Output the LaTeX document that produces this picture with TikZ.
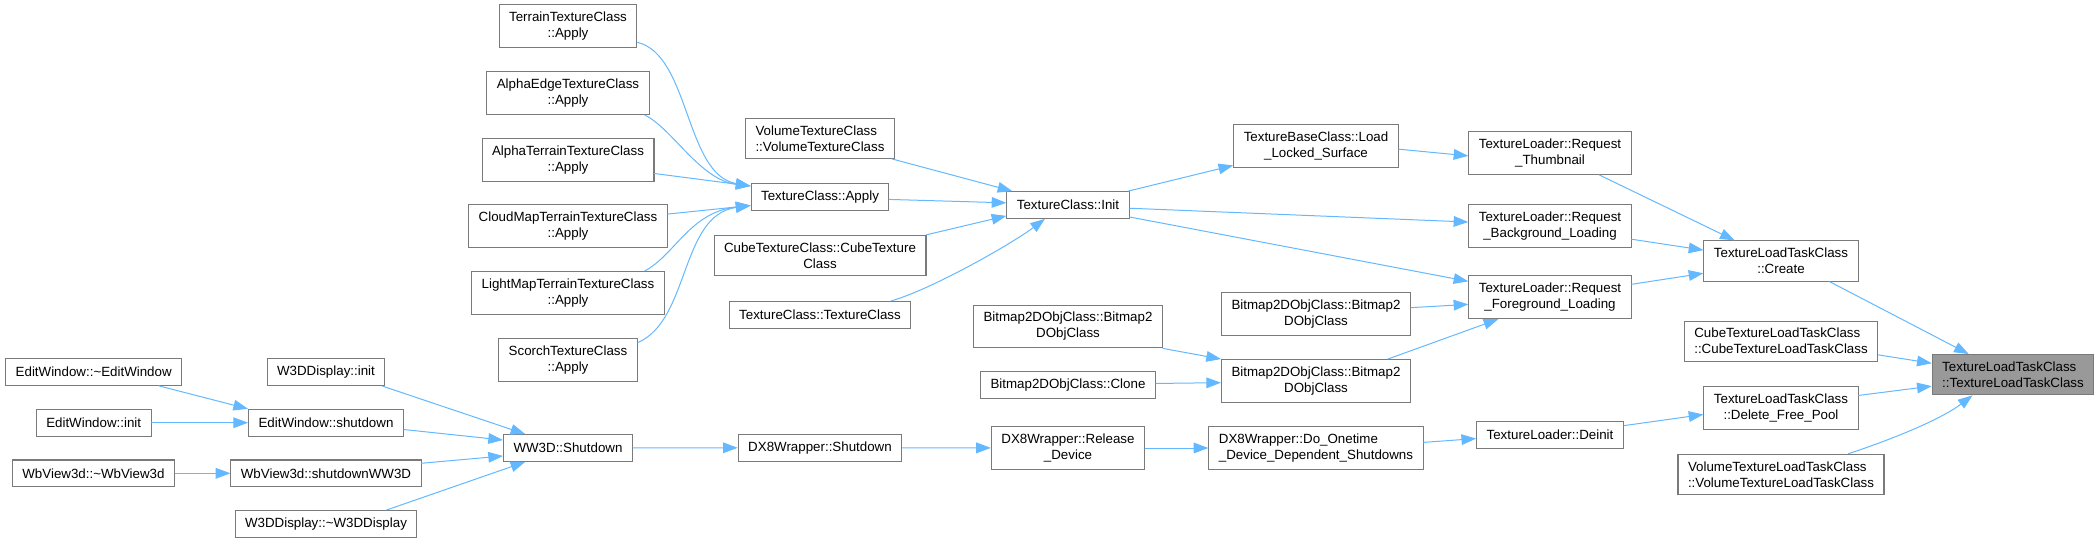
\documentclass[tikz,border=0pt]{standalone}
\usepackage{fontspec}
\setmainfont{Liberation Sans}
\usetikzlibrary{arrows.meta}
\definecolor{callblue}{HTML}{63B8FF}
\definecolor{boxgray}{HTML}{7A7A7A}
\definecolor{hitgray}{HTML}{999999}

\begin{document}
\begin{tikzpicture}[x=0.75pt, y=-0.75pt, every node/.style={font=\fontsize{10}{12}\selectfont}, line cap=round,
  >={Triangle[length=11pt, width=8pt]},
  fn/.style={draw=boxgray, line width=0.8pt, fill=white, align=center, inner xsep=7.5pt, inner ysep=5.4pt, minimum height=20pt},
  fnl/.style={fn, align=left},
  hit/.style={fnl, fill=hitgray},
  call/.style={->, draw=callblue, line width=0.75pt}]

\useasboundingbox (0,0) rectangle (2100,543);

% ---------- callers on the far left ----------
\node[fn] (ewDtor) at (93.7,372) {EditWindow::\textasciitilde EditWindow};
\node[fn] (ewInit) at (93.7,422.7) {EditWindow::init};
\node[fn] (wbDtor) at (93.5,473.3) {WbView3d::\textasciitilde WbView3d};

\node[fn] (w3dInit) at (326,372) {W3DDisplay::init};
\node[fn] (ewShut) at (326,422.7) {EditWindow::shutdown};
\node[fn] (wbShut) at (326,473.3) {WbView3d::shutdownWW3D};
\node[fn] (w3dDtor) at (326,524) {W3DDisplay::\textasciitilde W3DDisplay};

% ---------- texture Apply column ----------
\node[fn] (terrain) at (568,26.3) {TerrainTextureClass\\::Apply};
\node[fn] (alphaEdge) at (568,93) {AlphaEdgeTextureClass\\::Apply};
\node[fn] (alphaTerrain) at (568,159.8) {AlphaTerrainTextureClass\\::Apply};
\node[fn] (cloudMap) at (568,226.3) {CloudMapTerrainTextureClass\\::Apply};
\node[fn] (lightMap) at (568,293) {LightMapTerrainTextureClass\\::Apply};
\node[fn] (scorch) at (568,360) {ScorchTextureClass\\::Apply};
\node[fn] (ww3d) at (568,448) {WW3D::Shutdown};

\node[fnl] (volTex) at (820,138.3) {VolumeTextureClass\\::VolumeTextureClass};
\node[fn] (tcApply) at (820,197) {TextureClass::Apply};
\node[fn] (cubeTex) at (820,255.5) {CubeTextureClass::CubeTexture\\Class};
\node[fn] (tcCtor) at (820,314.7) {TextureClass::TextureClass};
\node[fn] (dxShut) at (820,447.7) {DX8Wrapper::Shutdown};

% ---------- init, bitmaps, device ----------
\node[fn] (tcInit) at (1068,205) {TextureClass::Init};
\node[fn] (bmpA) at (1068,326.5) {Bitmap2DObjClass::Bitmap2\\DObjClass};
\node[fn] (bmpClone) at (1068,385) {Bitmap2DObjClass::Clone};
\node[fn] (dxRelease) at (1068,448) {DX8Wrapper::Release\\\_Device};

\node[fn] (loadLocked) at (1316,146.3) {TextureBaseClass::Load\\\_Locked\_Surface};
\node[fn] (bmpB) at (1316,314.3) {Bitmap2DObjClass::Bitmap2\\DObjClass};
\node[fn] (bmpC) at (1316,381) {Bitmap2DObjClass::Bitmap2\\DObjClass};
\node[fnl] (dxOnetime) at (1316,448) {DX8Wrapper::Do\_Onetime\\\_Device\_Dependent\_Shutdowns};

% ---------- loader requests and task class ----------
\node[fn] (reqThumb) at (1550,153) {TextureLoader::Request\\\_Thumbnail};
\node[fn] (reqBack) at (1550,226.3) {TextureLoader::Request\\\_Background\_Loading};
\node[fn] (reqFore) at (1550,297.2) {TextureLoader::Request\\\_Foreground\_Loading};
\node[fn] (ldDeinit) at (1550,434.7) {TextureLoader::Deinit};

\node[fn] (tltCreate) at (1781,261) {TextureLoadTaskClass\\::Create};
\node[fnl] (cubeTlt) at (1781,341.2) {CubeTextureLoadTaskClass\\::CubeTextureLoadTaskClass};
\node[fn] (tltFree) at (1781,407.7) {TextureLoadTaskClass\\::Delete\_Free\_Pool};
\node[fnl] (volTlt) at (1781,474.3) {VolumeTextureLoadTaskClass\\::VolumeTextureLoadTaskClass};

\node[hit] (tltCtor) at (2013,374.7) {TextureLoadTaskClass\\::TextureLoadTaskClass};

% ---------- calls ----------
\draw[call] (ewDtor.348) -- (ewShut.north west);
\draw[call] (ewInit) -- (ewShut);
\draw[call] (wbDtor) -- (wbShut);
\draw[call] (w3dInit.346) -- (ww3d.162);
\draw[call] (ewShut.355) -- (ww3d.173);
\draw[call] (wbShut.6) -- (ww3d.187);
\draw[call] (w3dDtor.13) -- (ww3d.198);

\draw[call] (terrain.347) .. controls (690,55) and (685,175) .. (tcApply.171);
\draw[call] (alphaEdge.344) .. controls (672,128) and (700,180) .. (tcApply.171);
\draw[call] (alphaTerrain.351) -- (tcApply.171);
\draw[call] (cloudMap.7) -- (tcApply.187);
\draw[call] (lightMap.16) .. controls (675,255) and (690,212) .. (tcApply.187);
\draw[call] (scorch.14) .. controls (690,320) and (680,215) .. (tcApply.187);
\draw[call] (ww3d) -- (dxShut);

\draw[call] (volTex.344) -- (tcInit.166);
\draw[call] (tcApply.358) -- (tcInit.178);
\draw[call] (cubeTex.11) -- (tcInit.190);
\draw[call] (tcCtor.11) .. controls (930,290) and (1010,245) .. (tcInit.211);
\draw[call] (dxShut) -- (dxRelease);

\draw[call] (tcInit.13) -- (loadLocked.193);
\draw[call] (tcInit.357) -- (reqBack.177);
\draw[call] (tcInit.349) -- (reqFore.169);
\draw[call] (bmpA.347) -- (bmpC.167);
\draw[call] (bmpClone.1) -- (bmpC.181);
\draw[call] (dxRelease) -- (dxOnetime);

\draw[call] (loadLocked.358) -- (reqThumb.182);
\draw[call] (bmpB.4) -- (reqFore.185);
\draw[call] (bmpC.17) -- (reqFore.203);
\draw[call] (dxOnetime.3) -- (ldDeinit.183);

\draw[call] (reqThumb.336) -- (tltCreate.156);
\draw[call] (reqBack.351) -- (tltCreate.172);
\draw[call] (reqFore.9) -- (tltCreate.189);
\draw[call] (ldDeinit.7) -- (tltFree.185);

\draw[call] (tltCreate.337) -- (tltCtor.155);
\draw[call] (cubeTlt.352) -- (tltCtor.172);
\draw[call] (tltFree.9) -- (tltCtor.188);
\draw[call] (volTlt.17) .. controls (1890,440) and (1940,420) .. (tltCtor.207);

\end{tikzpicture}
\end{document}
